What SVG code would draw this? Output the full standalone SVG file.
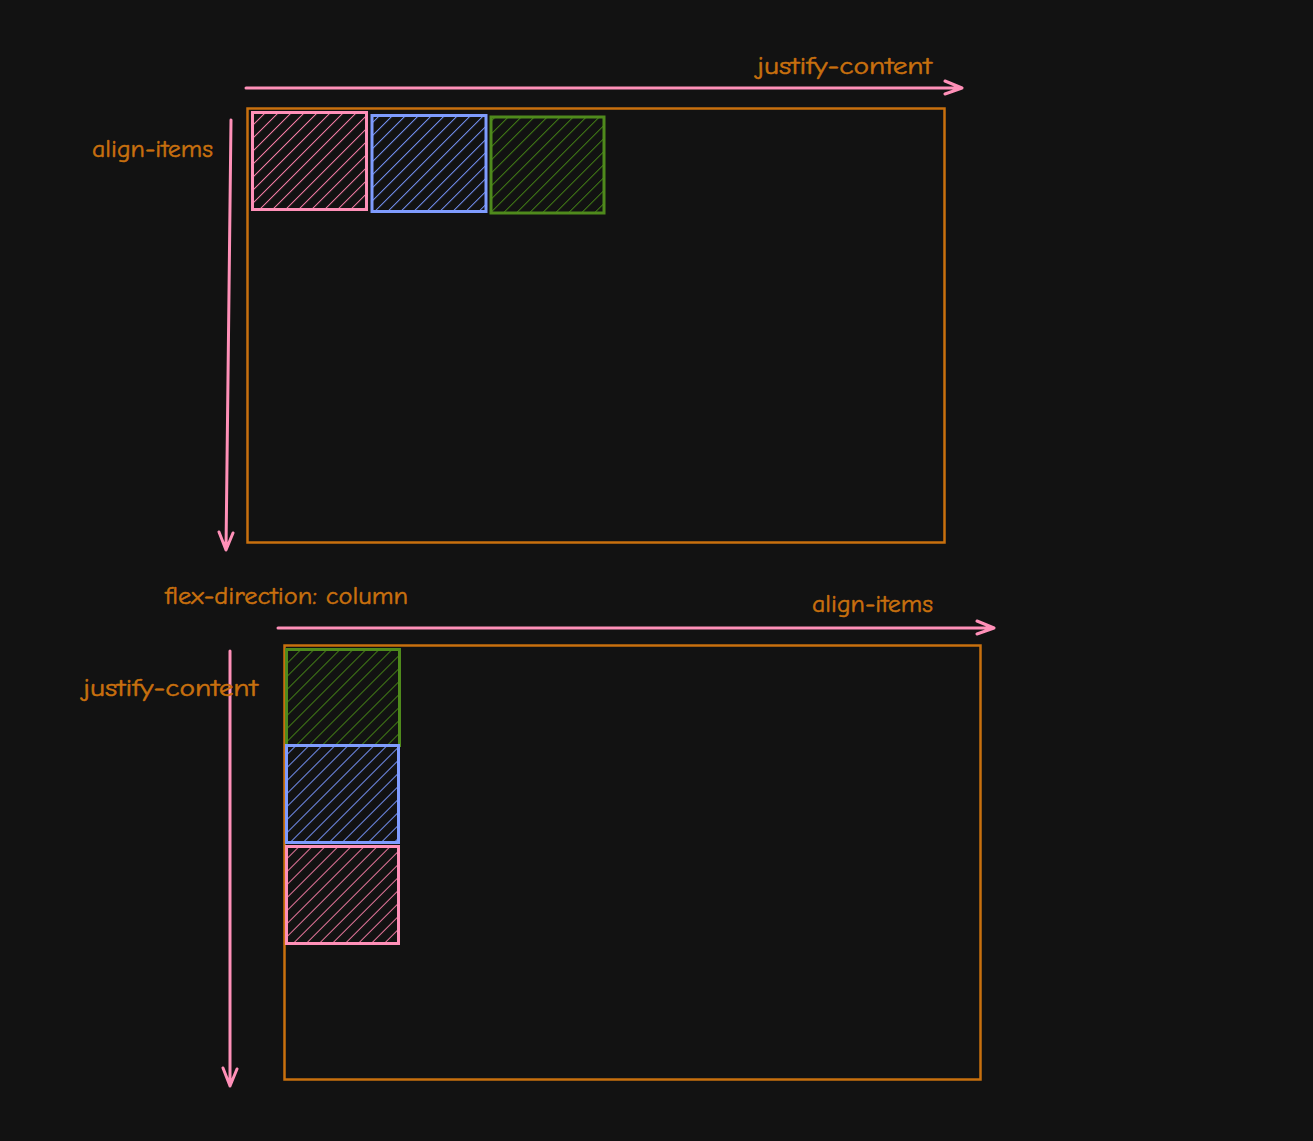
<svg xmlns="http://www.w3.org/2000/svg" width="1313" height="1141" viewBox="0 0 1313 1141">
<style>
.lbl{font-family:"Comic Neue","Liberation Sans",sans-serif;font-size:24px;fill:#c8700e;stroke:#c8700e;stroke-width:0.5}
.ctr{fill:none;stroke:#c8700e;stroke-width:2.5}
.arr{fill:none;stroke:#ff90b8;stroke-width:3;stroke-linecap:round;stroke-linejoin:round}
.pk{stroke:#ff90b8;stroke-width:3}
.bl{stroke:#7f9cff;stroke-width:3}
.gr{stroke:#4f8a1c;stroke-width:3}
</style>
<defs>
<pattern id="hp" width="9.2" height="9.2" patternUnits="userSpaceOnUse" patternTransform="rotate(45)"><line x1="0" y1="0" x2="0" y2="9.2" stroke="#f07aa2" stroke-width="2"/></pattern>
<pattern id="hb" width="9.2" height="9.2" patternUnits="userSpaceOnUse" patternTransform="rotate(45)"><line x1="0" y1="0" x2="0" y2="9.2" stroke="#7592f5" stroke-width="2"/></pattern>
<pattern id="hg" width="9.2" height="9.2" patternUnits="userSpaceOnUse" patternTransform="rotate(45)"><line x1="0" y1="0" x2="0" y2="9.2" stroke="#437f16" stroke-width="2"/></pattern>
</defs>
<rect width="1313" height="1141" fill="#121212"/>
<g id="container-row"><rect class="ctr" x="247.5" y="108.5" width="697" height="434"/></g>
<g id="row-item-pink"><rect class="pk" x="252.5" y="112.5" width="114" height="97" fill="url(#hp)"/></g>
<g id="row-item-blue"><rect class="bl" x="372" y="115.5" width="114" height="96" fill="url(#hb)"/></g>
<g id="row-item-green"><rect class="gr" x="491" y="117" width="113" height="96" fill="url(#hg)"/></g>
<g id="container-column"><rect class="ctr" x="284.5" y="645.5" width="696" height="434"/></g>
<g id="col-item-green"><rect class="gr" x="286.5" y="649.5" width="113" height="96" fill="url(#hg)"/></g>
<g id="col-item-blue"><rect class="bl" x="286.5" y="745.5" width="112" height="97" fill="url(#hb)"/></g>
<g id="col-item-pink"><rect class="pk" x="286.5" y="846.5" width="112" height="97" fill="url(#hp)"/></g>
<g id="connectors">
<path class="arr" d="M246 88 L962 88 M945 81 L962 88 L945 94"/>
<path class="arr" d="M231 120 L226 550 M219 532 L226 550 L233 533"/>
<path class="arr" d="M278 628 L994 628 M977 621 L994 628 L977 634"/>
<path class="arr" d="M230 651 L230 1086 M223 1068 L230 1086 L237 1069"/>
</g>
<g id="labels">
<text class="lbl" x="757" y="74" textLength="175" lengthAdjust="spacingAndGlyphs">justify-content</text>
<text class="lbl" x="92" y="157" textLength="121" lengthAdjust="spacingAndGlyphs">align-items</text>
<text class="lbl" x="165" y="604" textLength="243" lengthAdjust="spacingAndGlyphs">flex-direction: column</text>
<text class="lbl" x="812" y="612" textLength="121" lengthAdjust="spacingAndGlyphs">align-items</text>
<text class="lbl" x="83" y="696" textLength="175" lengthAdjust="spacingAndGlyphs">justify-content</text>
</g>
</svg>
